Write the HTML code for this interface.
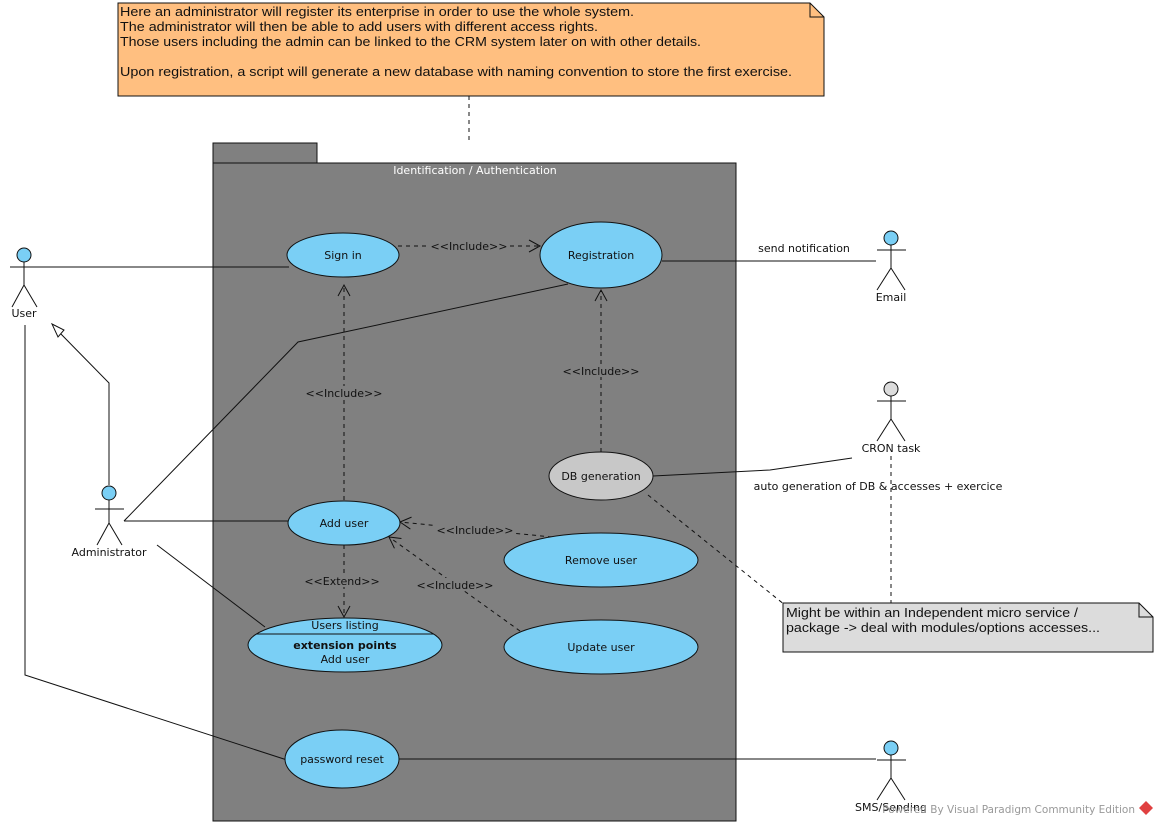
<!DOCTYPE html>
<html><head><meta charset="utf-8"><style>
html,body{margin:0;padding:0;background:#fff;width:1158px;height:826px;overflow:hidden}
svg{display:block}
text{font-family:"DejaVu Sans","Liberation Sans",sans-serif;font-size:11px;fill:#111}
.n{font-family:"Liberation Sans",sans-serif;font-size:13px}
</style></head><body>
<svg width="1158" height="826" viewBox="0 0 1158 826" xmlns="http://www.w3.org/2000/svg">
<defs>
<marker id="oa" markerWidth="14" markerHeight="14" refX="12" refY="7" orient="auto" markerUnits="userSpaceOnUse">
<path d="M1,1 L12,7 L1,13" fill="none" stroke="#111" stroke-width="1"/></marker>
</defs>
<!-- top note -->
<path d="M118,3 H810 L824,17 V96 H118 Z" fill="#ffbf80" stroke="#111"/>
<path d="M810,3 V17 H824" fill="none" stroke="#111"/>
<text class="n" x="120" y="16" textLength="514" lengthAdjust="spacingAndGlyphs">Here an administrator will register its enterprise in order to use the whole system.</text>
<text class="n" x="120" y="31" textLength="478" lengthAdjust="spacingAndGlyphs">The administrator will then be able to add users with different access rights.</text>
<text class="n" x="120" y="46" textLength="581" lengthAdjust="spacingAndGlyphs">Those users including the admin can be linked to the CRM system later on with other details.</text>
<text class="n" x="120" y="76" textLength="672" lengthAdjust="spacingAndGlyphs">Upon registration, a script will generate a new database with naming convention to store the first exercise.</text>
<line x1="469" y1="96" x2="469" y2="143" stroke="#111" stroke-dasharray="4,4"/>
<!-- package -->
<rect x="213" y="143" width="104" height="20" fill="#808080" stroke="#111"/>
<rect x="213" y="163" width="523" height="658" fill="#808080" stroke="#111"/>
<text x="475" y="174" text-anchor="middle" style="fill:#fff">Identification / Authentication</text>

<!-- association lines -->
<g stroke="#111" fill="none">
<line x1="40" y1="267" x2="289" y2="267"/>
<line x1="124" y1="521" x2="288" y2="521"/>
<polyline points="124,521 298,342 568,284"/>
<line x1="157" y1="545" x2="265" y2="627"/>
<polyline points="25,325 25,675 287,760"/>
<line x1="399" y1="759" x2="876" y2="759"/>
<line x1="662" y1="261" x2="876" y2="261"/>
<polyline points="653,476 770,470 852,458"/>
<polyline points="109,485 109,383 58,331"/>
<path d="M52,324 L64,330 L58,337 Z" fill="#fff"/>
</g>
<!-- dashed -->
<g stroke="#111" fill="none" stroke-dasharray="4,4">
<line x1="891" y1="456" x2="891" y2="603"/>
<line x1="648" y1="495" x2="785" y2="605"/>
<line x1="398" y1="246" x2="540" y2="246" marker-end="url(#oa)"/>
<line x1="344" y1="500" x2="344" y2="285" marker-end="url(#oa)"/>
<line x1="601" y1="452" x2="601" y2="290" marker-end="url(#oa)"/>
<line x1="552" y1="537" x2="400" y2="522" marker-end="url(#oa)"/>
<line x1="520" y1="631" x2="389" y2="537" marker-end="url(#oa)"/>
<line x1="344" y1="545" x2="344" y2="617" marker-end="url(#oa)"/>
</g>
<g fill="#808080">
<rect x="428" y="239" width="82" height="13"/>
<rect x="303" y="386" width="82" height="13"/>
<rect x="560" y="364" width="82" height="13"/>
<rect x="434" y="523" width="82" height="13"/>
<rect x="414" y="578" width="82" height="13"/>
<rect x="302" y="574" width="80" height="13"/>
</g>
<text x="469" y="250" text-anchor="middle">&lt;&lt;Include&gt;&gt;</text>
<text x="344" y="397" text-anchor="middle">&lt;&lt;Include&gt;&gt;</text>
<text x="601" y="375" text-anchor="middle">&lt;&lt;Include&gt;&gt;</text>
<text x="475" y="534" text-anchor="middle">&lt;&lt;Include&gt;&gt;</text>
<text x="455" y="589" text-anchor="middle">&lt;&lt;Include&gt;&gt;</text>
<text x="342" y="585" text-anchor="middle">&lt;&lt;Extend&gt;&gt;</text>
<text x="804" y="252" text-anchor="middle">send notification</text>
<text x="878" y="490" text-anchor="middle">auto generation of DB &amp; accesses + exercice</text>

<!-- use cases -->
<g stroke="#111" fill="#7acff5">
<ellipse cx="343" cy="255" rx="56" ry="22"/>
<ellipse cx="601" cy="255" rx="61" ry="33"/>
<ellipse cx="601" cy="476" rx="52" ry="24" fill="#c8c8c8"/>
<ellipse cx="344" cy="523" rx="56" ry="22"/>
<ellipse cx="601" cy="560" rx="97" ry="27"/>
<ellipse cx="345" cy="645" rx="97" ry="27"/>
<ellipse cx="601" cy="647" rx="97" ry="27"/>
<ellipse cx="342" cy="759" rx="57" ry="29"/>
</g>
<line x1="256" y1="634" x2="434" y2="634" stroke="#111"/>
<g text-anchor="middle">
<text x="343" y="259">Sign in</text>
<text x="601" y="259">Registration</text>
<text x="601" y="480">DB generation</text>
<text x="344" y="527">Add user</text>
<text x="601" y="564">Remove user</text>
<text x="345" y="629">Users listing</text>
<text x="345" y="649" style="font-weight:bold">extension points</text>
<text x="345" y="663">Add user</text>
<text x="601" y="651">Update user</text>
<text x="342" y="763">password reset</text>
</g>

<!-- actors -->
<g stroke="#111" fill="none">
<g transform="translate(24,255)"><circle r="7" fill="#7acff5"/><path d="M0,7V30M-14,12H16M0,30L-12,52M0,30L13,52"/></g>
<g transform="translate(109,493)"><circle r="7" fill="#7acff5"/><path d="M0,7V30M-14,16H15M0,30L-12,52M0,30L13,52"/></g>
<g transform="translate(891,238)"><circle r="7" fill="#7acff5"/><path d="M0,7V30M-14,12H15M0,30L-14,52M0,30L14,52"/></g>
<g transform="translate(891,389)"><circle r="7" fill="#dcdcdc"/><path d="M0,7V30M-14,12H15M0,30L-14,52M0,30L14,52"/></g>
<g transform="translate(891,748)"><circle r="7" fill="#7acff5"/><path d="M0,7V30M-14,12H15M0,30L-14,52M0,30L14,52"/></g>
</g>
<g text-anchor="middle">
<text x="24" y="317">User</text>
<text x="109" y="556">Administrator</text>
<text x="891" y="301">Email</text>
<text x="891" y="452">CRON task</text>
<text x="891" y="811">SMS/Sending</text>
</g>

<!-- note 2 -->
<path d="M783,603 H1139 L1153,617 V652 H783 Z" fill="#dcdcdc" stroke="#111"/>
<path d="M1139,603 V617 H1153" fill="none" stroke="#111"/>
<text class="n" x="786" y="617" textLength="292" lengthAdjust="spacingAndGlyphs">Might be within an Independent micro service /</text>
<text class="n" x="786" y="632" textLength="314" lengthAdjust="spacingAndGlyphs">package -&gt; deal with modules/options accesses...</text>

<text x="1135" y="813" text-anchor="end" style="fill:#999;font-size:10.5px">Powered By Visual Paradigm Community Edition</text>
<path d="M1146,801 L1153,808 L1146,815 L1139,808 Z" fill="#e04040"/>
</svg>
</body></html>
